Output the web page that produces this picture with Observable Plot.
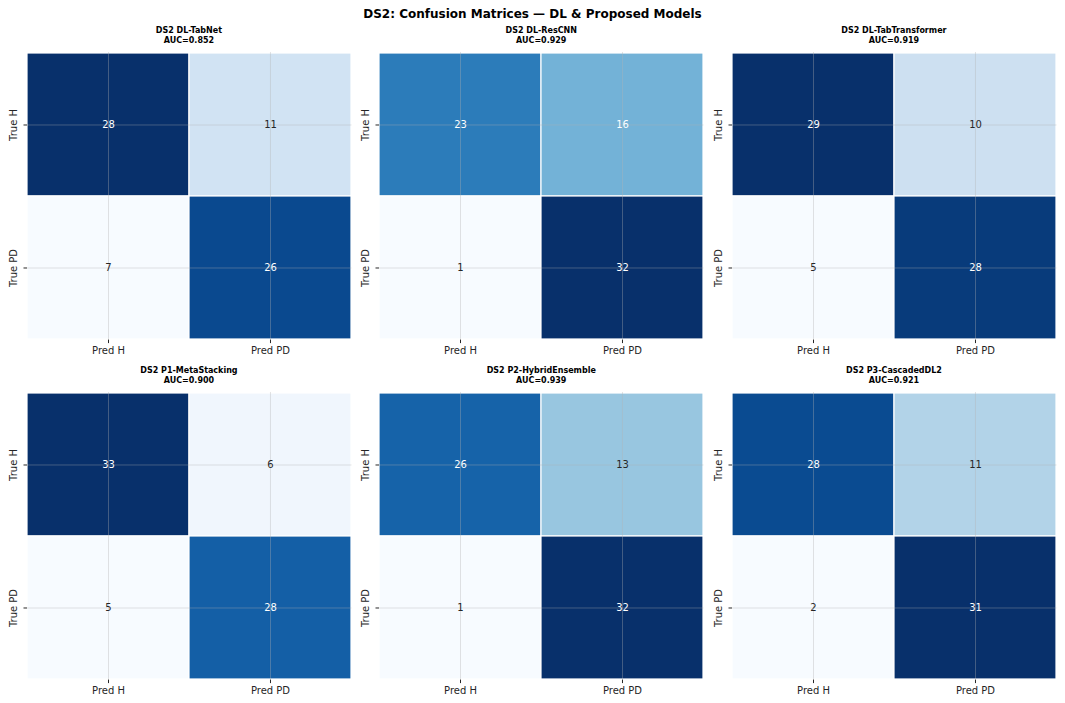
<!DOCTYPE html>
<html>
<head>
<meta charset="utf-8">
<script src="https://cdn.jsdelivr.net/npm/d3@7"></script>
<script src="https://cdn.jsdelivr.net/npm/@observablehq/plot@0.6"></script>
<style>
  html, body { margin: 0; padding: 0; background: #fff; }
  #fig { position: relative; width: 1065px; height: 703px; background: #fff; font-family: "DejaVu Sans", sans-serif; overflow: hidden; }
  .suptitle { position: absolute; left: 0; width: 1065px; top: 7px; text-align: center; font-weight: bold; font-size: 12px; line-height: 14px; color: #000; }
  .ptitle { position: absolute; text-align: center; font-weight: bold; font-size: 8px; line-height: 10px; color: #000; white-space: nowrap; }
  .panel { position: absolute; }
</style>
</head>
<body>
<div id="fig">
  <div class="suptitle">DS2: Confusion Matrices — DL &amp; Proposed Models</div>
</div>
<script>
// Confusion-matrix counts per model (rows: true class, columns: predicted class)
const models = ["DS2 DL-TabNet", "DS2 DL-ResCNN", "DS2 DL-TabTransformer",
                "DS2 P1-MetaStacking", "DS2 P2-HybridEnsemble", "DS2 P3-CascadedDL2"];
const aucs = [0.852, 0.929, 0.919, 0.900, 0.939, 0.921];
const trueH_predH = [28, 23, 29, 33, 26, 28];
const trueH_predPD = [11, 16, 10, 6, 13, 11];
const truePD_predH = [7, 1, 5, 5, 1, 2];
const truePD_predPD = [26, 32, 28, 28, 32, 31];
const predLabels = ["Pred H", "Pred PD"];
const trueLabels = ["True H", "True PD"];

// Grid geometry (2 rows × 3 columns)
const colX = [26.7, 379, 731.7];
const rowY = [51.7, 391.7];
const PW = 324.5, PH = 287.6;
const ML = 30, MR = 4, MT = 2, MB = 22;

// Relative luminance, used to pick a readable annotation colour
function luminance(c) {
  const { r, g, b } = d3.rgb(c);
  const f = v => { v /= 255; return v <= 0.03928 ? v / 12.92 : Math.pow((v + 0.055) / 1.055, 2.4); };
  return 0.2126 * f(r) + 0.7152 * f(g) + 0.0722 * f(b);
}

const fig = document.getElementById("fig");

models.forEach((name, i) => {
  const data = [
    { pred: predLabels[0], truth: trueLabels[0], n: trueH_predH[i] },
    { pred: predLabels[1], truth: trueLabels[0], n: trueH_predPD[i] },
    { pred: predLabels[0], truth: trueLabels[1], n: truePD_predH[i] },
    { pred: predLabels[1], truth: trueLabels[1], n: truePD_predPD[i] }
  ];
  // each matrix gets its own colour range, from its smallest to its largest count
  const lo = d3.min(data, d => d.n), hi = d3.max(data, d => d.n);
  const shade = d3.scaleSequential([lo, hi], d3.interpolateBlues);
  const ink = d => luminance(shade(d.n)) > 0.408 ? "#262626" : "#ffffff";

  const col = i % 3, row = Math.floor(i / 3);
  const x0 = colX[col], y0 = rowY[row];

  const chart = Plot.plot({
    width: ML + PW + MR,
    height: MT + PH + MB,
    marginLeft: ML, marginRight: MR, marginTop: MT, marginBottom: MB,
    style: { fontFamily: "DejaVu Sans, sans-serif", background: "transparent", overflow: "visible" },
    x: { type: "band", domain: predLabels, padding: 0, label: null },
    y: { type: "band", domain: trueLabels, padding: 0, label: null },
    color: { type: "linear", domain: [lo, hi], interpolate: d3.interpolateBlues },
    marks: [
      Plot.cell(data, { x: "pred", y: "truth", fill: "n", stroke: "white", strokeWidth: 1.2 }),
      Plot.gridX({ stroke: "#b0b0b0", strokeOpacity: 0.45, strokeWidth: 0.8 }),
      Plot.gridY({ stroke: "#b0b0b0", strokeOpacity: 0.45, strokeWidth: 0.8 }),
      Plot.text(data, { x: "pred", y: "truth", text: d => String(d.n), fill: ink, fontSize: 10 }),
      Plot.axisX({ anchor: "bottom", tickSize: 3.5, tickPadding: 3, fontSize: 10, color: "#262626", label: null }),
      Plot.axisY({ anchor: "left", tickSize: 3.5, tickPadding: 7, tickRotate: -90, fontSize: 10, color: "#262626", label: null })
    ]
  });
  chart.classList.add("panel");
  chart.style.left = (x0 - ML) + "px";
  chart.style.top = (y0 - MT) + "px";
  fig.appendChild(chart);

  const t = document.createElement("div");
  t.className = "ptitle";
  t.style.left = x0 + "px";
  t.style.width = PW + "px";
  t.style.top = (y0 - 25.5) + "px";
  t.innerHTML = name + "<br>AUC=" + aucs[i].toFixed(3);
  fig.appendChild(t);
});
</script>
</body>
</html>
